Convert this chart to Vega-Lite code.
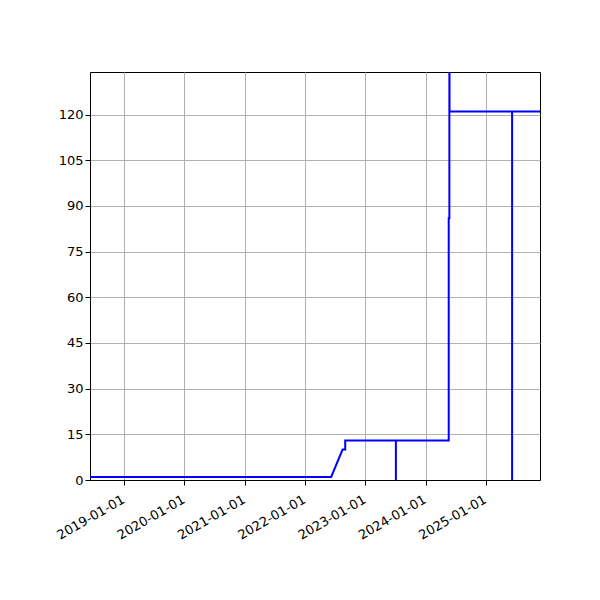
{
  "$schema": "https://vega.github.io/schema/vega-lite/v6.json",
  "width": 450,
  "height": 408,
  "autosize": "none",
  "padding": {"left": 90, "top": 72, "right": 60, "bottom": 120},
  "background": "white",
  "config": {
    "view": {"stroke": "black", "strokeWidth": 1},
    "axis": {
      "labelFont": "DejaVu Sans",
      "labelFontSize": 13,
      "labelColor": "black",
      "domainColor": "black",
      "tickColor": "black",
      "tickSize": 5,
      "gridColor": "#b0b0b0",
      "gridWidth": 1,
      "titleFontSize": 0
    }
  },
  "data": {
    "values": [
      {"i": 1, "date": "2018-05-01", "value": 1},
      {"i": 2, "date": "2022-06-08", "value": 1},
      {"i": 3, "date": "2022-08-16", "value": 10},
      {"i": 4, "date": "2022-09-01", "value": 10},
      {"i": 5, "date": "2022-09-01", "value": 13},
      {"i": 6, "date": "2023-07-05", "value": 13},
      {"i": 7, "date": "2023-07-05", "value": 0},
      {"i": 8, "date": "2023-07-05", "value": 13},
      {"i": 9, "date": "2024-05-20", "value": 13},
      {"i": 10, "date": "2024-05-20", "value": 86},
      {"i": 11, "date": "2024-05-24", "value": 86},
      {"i": 12, "date": "2024-05-24", "value": 200},
      {"i": 13, "date": "2024-05-25", "value": 121},
      {"i": 14, "date": "2025-06-08", "value": 121},
      {"i": 15, "date": "2025-06-08", "value": 0},
      {"i": 16, "date": "2025-06-08", "value": 121},
      {"i": 17, "date": "2026-03-01", "value": 121}
    ]
  },
  "mark": {"type": "line", "color": "#0000ff", "strokeWidth": 2, "clip": true},
  "encoding": {
    "x": {
      "field": "date",
      "type": "temporal",
      "title": null,
      "scale": {"domain": ["2018-06-08", "2025-11-24"]},
      "axis": {
        "format": "%Y-%m-%d",
        "values": ["2019-01-01", "2020-01-01", "2021-01-01", "2022-01-01", "2023-01-01", "2024-01-01", "2025-01-01"],
        "labelAngle": -30,
        "labelAlign": "right",
        "labelBaseline": "top",
        "labelPadding": 8,
        "labelOffset": -4,
        "labelOverlap": false,
        "labelBound": false
      }
    },
    "y": {
      "field": "value",
      "type": "quantitative",
      "title": null,
      "scale": {"domain": [0, 134], "nice": false, "zero": true},
      "axis": {"values": [0, 15, 30, 45, 60, 75, 90, 105, 120], "labelOverlap": false}
    },
    "order": {"field": "i", "type": "quantitative"}
  }
}
